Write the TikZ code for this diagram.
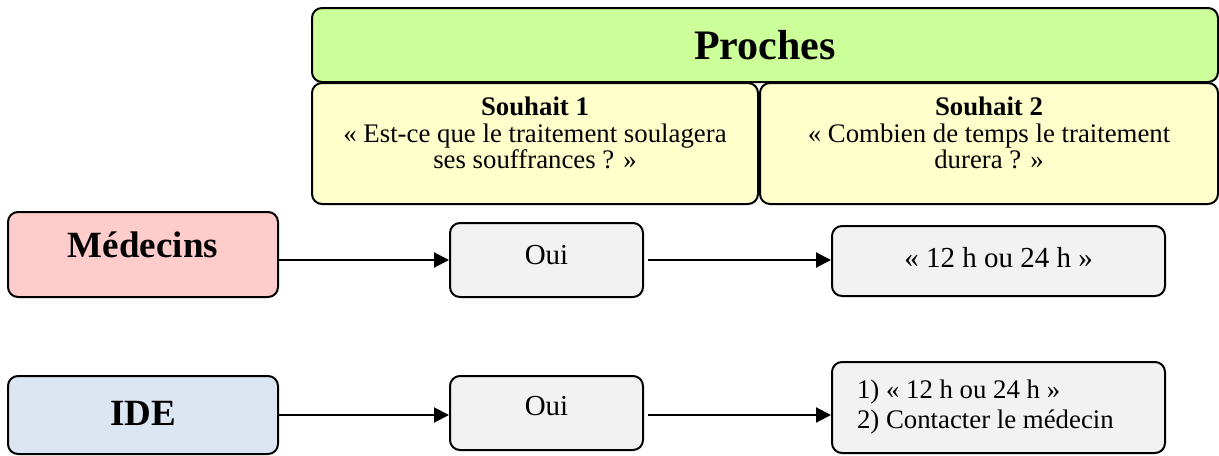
\documentclass[tikz,border=0pt]{standalone}
\usepackage{fontspec}
\setmainfont{Liberation Serif}
\usepackage{tikz}
\usetikzlibrary{arrows.meta,positioning}
\definecolor{vertproche}{RGB}{204,255,153}
\definecolor{jaunesouhait}{RGB}{255,255,204}
\definecolor{rosemed}{RGB}{255,204,204}
\definecolor{bleuide}{RGB}{220,230,242}
\definecolor{grisrep}{RGB}{242,242,242}

\begin{document}
\begin{tikzpicture}[x=0.5pt, y=-0.5pt,
      cadre/.style={draw=black, line width=1pt, rounded corners=5pt, inner sep=0pt},
      groupe/.style={cadre, fill=vertproche, minimum width=453pt, minimum height=37pt,
                     font=\bfseries\fontsize{21}{25}\selectfont},
      souhait/.style={cadre, fill=jaunesouhait, minimum height=60.5pt},
      texte/.style={align=center, inner sep=0pt, font=\fontsize{13.4}{13.2}\selectfont},
      acteur/.style={cadre, minimum width=135pt, font=\bfseries\fontsize{18.5}{22}\selectfont},
      reponse/.style={cadre, fill=grisrep, font=\fontsize{14.5}{15}\selectfont},
      fleche/.style={-{Triangle[length=7.5pt, width=7.5pt]}, line width=1pt}]
    \useasboundingbox (0,0) rectangle (1219,455);
    % en-tete : les proches et leurs souhaits
    \node[groupe] (proches) at (765,45) {Proches};
    \node[souhait, minimum width=223pt] (s1) at (535,143.5) {};
    \node[souhait, minimum width=229pt] (s2) at (989,143.5) {};
    \node[texte, below=7.5pt of s1.north] (s1txt)
      {\textbf{Souhait 1}\\« Est-ce que le traitement soulagera\\ses souffrances ? »};
    \node[texte, below=7.5pt of s2.north] (s2txt)
      {\textbf{Souhait 2}\\« Combien de temps le traitement\\durera ? »};
    % ligne des medecins
    \node[acteur, fill=rosemed, minimum height=42.5pt, text height=14pt, text depth=11.5pt]
      (med) at (143,254.5) {Médecins};
    \node[reponse, minimum width=96.5pt, minimum height=37pt, text height=10pt, text depth=6pt]
      (oui1) at (546.5,260) {Oui};
    \node[reponse, minimum width=166.5pt, minimum height=35pt, text height=10pt, text depth=4pt]
      (rep1) at (998.5,261) {« 12 h ou 24 h »};
    % ligne des IDE
    \node[acteur, fill=bleuide, minimum height=39pt, text height=14pt, text depth=4pt]
      (ide) at (143,415) {IDE};
    \node[reponse, minimum width=96.5pt, minimum height=37pt, text height=10pt, text depth=8pt]
      (oui2) at (546.5,413) {Oui};
    \node[reponse, minimum width=166.5pt, minimum height=45.5pt, text width=141.5pt, align=flush left,
          font=\fontsize{13.4}{15}\selectfont]
      (rep2) at (998.5,407.5) {1) « 12 h ou 24 h »\\2) Contacter le médecin};
    % fleches
    \draw[fleche] (med.east |- oui1.west) -- (oui1.west);
    \draw[fleche, shorten <=2pt] (oui1.east) -- (rep1.west |- oui1.east);
    \draw[fleche] (ide.east) -- (ide.east -| oui2.west);
    \draw[fleche, shorten <=2pt] (oui2.east |- ide.east) -- (ide.east -| rep2.west);
  \end{tikzpicture}
\end{document}
